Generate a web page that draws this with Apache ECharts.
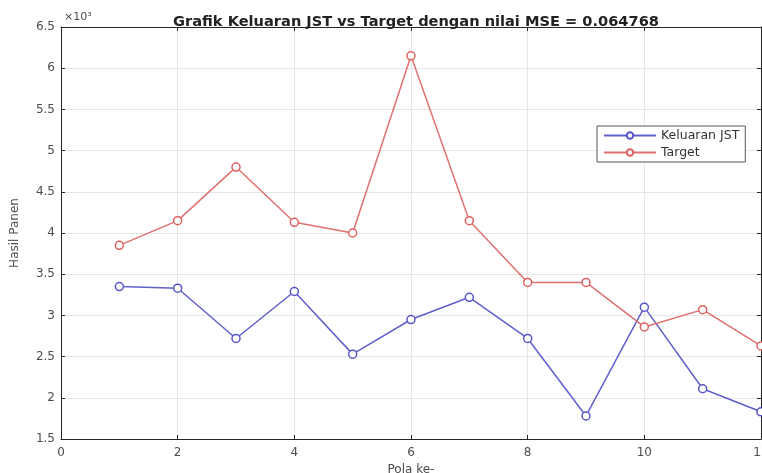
<!DOCTYPE html>
<html>
<head>
<meta charset="utf-8">
<script src="https://cdn.jsdelivr.net/npm/echarts@6/dist/echarts.min.js"></script>
<style>html,body{margin:0;padding:0;background:#fff;}#c{width:762px;height:473px;}</style>
</head>
<body>
<div id="c"></div>
<script>
var pola = [1, 2, 3, 4, 5, 6, 7, 8, 9, 10, 11, 12];
var keluaranJST = [3350, 3330, 2720, 3290, 2530, 2950, 3220, 2720, 1780, 3100, 2110, 1830];
var target = [3850, 4150, 4800, 4130, 4000, 6150, 4150, 3400, 3400, 2860, 3070, 2630];
var yTicks = [1.5, 2, 2.5, 3, 3.5, 4, 4.5, 5, 5.5, 6, 6.5];
var xTicks = [0, 2, 4, 6, 8, 10, 12];

function pairs(v) { return pola.map(function (x, i) { return [x, v[i]]; }); }

var chart = echarts.init(document.getElementById('c'), null, { renderer: 'canvas' });
var font = 'DejaVu Sans, Verdana, sans-serif';
var axisCol = '#262626';
var lblCol = '#4d4d4d';
chart.setOption({
  animation: false,
  backgroundColor: '#ffffff',
  title: {
    text: 'Grafik Keluaran JST vs Target dengan nilai MSE = 0.064768',
    left: 411, top: 10, textAlign: 'center',
    textStyle: { fontFamily: font, fontSize: 14.6, fontWeight: 'bold', color: '#222' }
  },
  graphic: [{
    type: 'text', left: 64, top: 12,
    style: { text: '×10³', font: '11px ' + font, fill: lblCol }
  }],
  legend: {
    left: 597, top: 126, orient: 'vertical', itemGap: 4,
    itemWidth: 52, itemHeight: 8,
    backgroundColor: '#fff', borderColor: '#555', borderWidth: 1, borderRadius: 0,
    padding: [3, 6, 3, 6],
    textStyle: { fontFamily: font, fontSize: 12.5, color: '#333' },
    data: ['Keluaran JST', 'Target']
  },
  grid: { left: 61, right: 1, top: 27, bottom: 34, containLabel: false, outerBoundsMode: 'none' },
  xAxis: [{
    type: 'value', min: 0, max: 12, interval: 2,
    name: 'Pola ke-', nameLocation: 'middle', nameGap: 25,
    nameTextStyle: { fontFamily: font, fontSize: 12, color: lblCol },
    axisLine: { show: true, lineStyle: { color: axisCol, width: 1 } },
    axisTick: { show: true, inside: true, length: 4, lineStyle: { color: axisCol } },
    axisLabel: { fontFamily: font, fontSize: 12, color: lblCol, margin: 8 },
    splitLine: { show: true, lineStyle: { color: '#e6e6e6', width: 1 } }
  }, {
    type: 'value', min: 0, max: 12, interval: 2, position: 'top',
    axisLine: { show: true, onZero: false, lineStyle: { color: axisCol, width: 1 } },
    axisTick: { show: true, inside: true, length: 4, lineStyle: { color: axisCol } },
    axisLabel: { show: false }, splitLine: { show: false }
  }],
  yAxis: [{
    type: 'value', min: 1500, max: 6500, interval: 500,
    name: 'Hasil Panen', nameLocation: 'middle', nameGap: 40, nameRotate: 90,
    nameTextStyle: { fontFamily: font, fontSize: 12, color: lblCol },
    axisLine: { show: true, lineStyle: { color: axisCol, width: 1 } },
    axisTick: { show: true, inside: true, length: 4, lineStyle: { color: axisCol } },
    axisLabel: {
      fontFamily: font, fontSize: 12, color: lblCol, margin: 6,
      formatter: function (v) { return String(Math.round(v / 100) / 10); }
    },
    splitLine: { show: true, lineStyle: { color: '#e6e6e6', width: 1 } }
  }, {
    type: 'value', min: 1500, max: 6500, interval: 500, position: 'right',
    axisLine: { show: true, onZero: false, lineStyle: { color: axisCol, width: 1 } },
    axisTick: { show: true, inside: true, length: 4, lineStyle: { color: axisCol } },
    axisLabel: { show: false }, splitLine: { show: false }
  }],
  series: [{
    name: 'Keluaran JST', type: 'line', data: pairs(keluaranJST),
    symbol: 'circle', symbolSize: 8, showAllSymbol: true,
    lineStyle: { color: '#6060cc', width: 1.5 },
    itemStyle: { color: '#ffffff', borderColor: '#5555c8', borderWidth: 1.5 }
  }, {
    name: 'Target', type: 'line', data: pairs(target),
    symbol: 'circle', symbolSize: 8, showAllSymbol: true,
    lineStyle: { color: '#e07070', width: 1.5 },
    itemStyle: { color: '#ffffff', borderColor: '#dd6060', borderWidth: 1.5 }
  }]
});
</script>
</body>
</html>
